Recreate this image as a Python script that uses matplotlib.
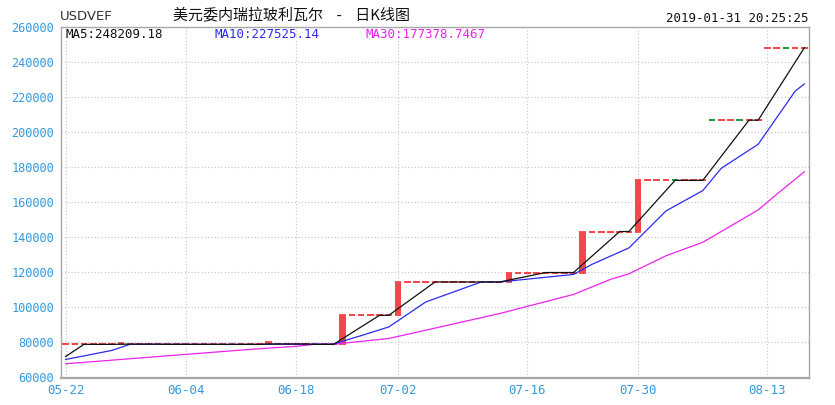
import matplotlib
matplotlib.use("Agg")
import matplotlib.pyplot as plt
import numpy as np
import pandas as pd

# closes before the visible window (only used to warm up the moving averages)
pre_close = [
    66600, 66600, 66600, 66600, 66600, 66600, 66600, 66600, 66600, 66600,
    66600, 66600, 66600, 66600, 66600, 66600, 66600, 66600, 66600, 66600,
    68600, 68600, 68600, 68600, 68600, 61500, 61500, 79000, 79000,
]

# visible daily candles
close = [
    78900, 78900, 78900, 78900, 78900, 78900, 79500, 78900, 78900, 78900,
    78900, 78900, 78900, 78900, 78900, 78900, 78900, 78900, 78900, 78900,
    78900, 78900, 80000, 78900, 78900, 78900, 78900, 78900, 78900, 78900,
    95500, 95500, 95500, 95500, 95500, 95500,
    114500, 114500, 114500, 114500, 114500, 114500, 114500, 114500, 114500, 114500,
    114500, 114500,
    119900, 119900, 119900, 119900, 119900, 119900, 119900, 119900,
    143300, 143300, 143300, 143300, 143300, 143300,
    172500, 172500, 172500, 172500, 172500, 172500, 172500, 172500,
    206841.1, 206841.1, 206841.1, 206841.1, 206841.1, 206841.1,
    248209.18, 248209.18, 248209.18, 248209.18, 248209.18,
]
open_ = [
    78900, 78900, 78900, 78900, 78900, 78900, 78900, 78900, 78900, 78900,
    78900, 78900, 78900, 78900, 78900, 78900, 78900, 78900, 78900, 78900,
    78900, 78900, 78900, 78900, 78900, 78900, 78900, 78900, 78900, 78900,
    78900, 95500, 95500, 95500, 95500, 95500,
    95500, 114500, 114500, 114500, 114500, 114500, 114500, 114500, 114500, 114500,
    114500, 114500,
    114500, 119900, 119900, 119900, 119900, 119900, 119900, 119900,
    119900, 143300, 143300, 143300, 143300, 143300,
    143300, 172500, 172500, 172500, 172600, 172500, 172500, 172500,
    206900, 206841.1, 206841.1, 206900, 206841.1, 206841.1,
    248209.18, 248209.18, 248300, 248209.18, 248209.18,
]

tick_idx = [0, 13, 25, 36, 50, 62, 76]
tick_labels = ["05-22", "06-04", "06-18", "07-02", "07-16", "07-30", "08-13"]
y_ticks = [60000, 80000, 100000, 120000, 140000, 160000, 180000, 200000,
           220000, 240000, 260000]

# legend values as printed on the chart
ma_names = ["MA5", "MA10", "MA30"]
ma_values = ["248209.18", "227525.14", "177378.7467"]

title = "美元委内瑞拉玻利瓦尔    -    日K线图"
symbol = "USDVEF"
stamp = "2019-01-31 20:25:25"

UP = "#f44848"
DOWN = "#22a040"
LBLUE = "#3399dd"
MA_COLORS = ["#111111", "#2b2bf0", "#ee22ee"]

full = pd.Series(pre_close + close, dtype=float)
n_pre = len(pre_close)
ma5 = full.rolling(5).mean().values[n_pre:]
ma10 = full.rolling(10).mean().values[n_pre:]
ma30 = full.rolling(30).mean().values[n_pre:]

o = np.array(open_, dtype=float)
c = np.array(close, dtype=float)
x = np.arange(len(c))
colors = [UP if cc >= oo else DOWN for oo, cc in zip(o, c)]

W, H = 835, 405
fig = plt.figure(figsize=(W / 100, H / 100), dpi=100)
ax = fig.add_axes([61 / W, (H - 377.5) / H, 748 / W, 350.5 / H])

# candle bodies and flat (doji) candles
bw = 0.72
ax.bar(x, np.abs(c - o), bottom=np.minimum(o, c), width=bw, color=colors,
       linewidth=0, zorder=2)
ax.hlines(c, x - bw / 2, x + bw / 2, colors=colors, linewidth=1.3, zorder=2)
ax.hlines(o, x - bw / 2, x + bw / 2, colors=colors, linewidth=1.3, zorder=2)

ax.plot(x, ma30, color=MA_COLORS[2], linewidth=0.9, zorder=3)
ax.plot(x, ma10, color=MA_COLORS[1], linewidth=0.9, zorder=4)
ax.plot(x, ma5, color=MA_COLORS[0], linewidth=0.9, zorder=5)

ax.set_xlim(-0.5, len(c) - 0.5)
ax.set_ylim(60000, 260000)
ax.set_yticks(y_ticks)
ax.set_yticklabels([str(v) for v in y_ticks])
ax.set_xticks(tick_idx)
ax.set_xticklabels(tick_labels)

ax.grid(True, color="#c4c4c4", linewidth=0.8, linestyle=(0, (1, 2)))
ax.set_axisbelow(True)
for side, sp in ax.spines.items():
    sp.set_color("#a8a8a8")
    sp.set_linewidth(1.0)
ax.spines["bottom"].set_linewidth(1.6)

ax.tick_params(axis="both", length=0, colors=LBLUE)
ax.tick_params(axis="y", pad=5)
ax.tick_params(axis="x", pad=5)
for lab in ax.get_yticklabels():
    lab.set_fontfamily("DejaVu Sans Mono")
    lab.set_fontsize(8.6)
for lab in ax.get_xticklabels():
    lab.set_fontfamily("DejaVu Sans Mono")
    lab.set_fontsize(9)

# header texts
fig.text(173 / W, 1 - 15 / H, title, ha="left", va="center", fontsize=10.8,
         family=["Noto Sans CJK SC", "DejaVu Sans"], color="#111111")
fig.text(60 / W, 1 - 17 / H, symbol, ha="left", va="center", fontsize=9.5,
         family=["Liberation Sans Narrow", "DejaVu Sans"], color="#333333")
fig.text(808 / W, 1 - 18 / H, stamp, ha="right", va="center", fontsize=9,
         family="DejaVu Sans Mono", color="#111111")

for px, name, val, col in zip([65, 215, 365], ma_names, ma_values, MA_COLORS):
    fig.text(px / W, 1 - 34 / H, f"{name}:{val}", ha="left", va="center",
             fontsize=9, family="DejaVu Sans Mono", color=col)

fig.savefig("out.png", dpi=100)
